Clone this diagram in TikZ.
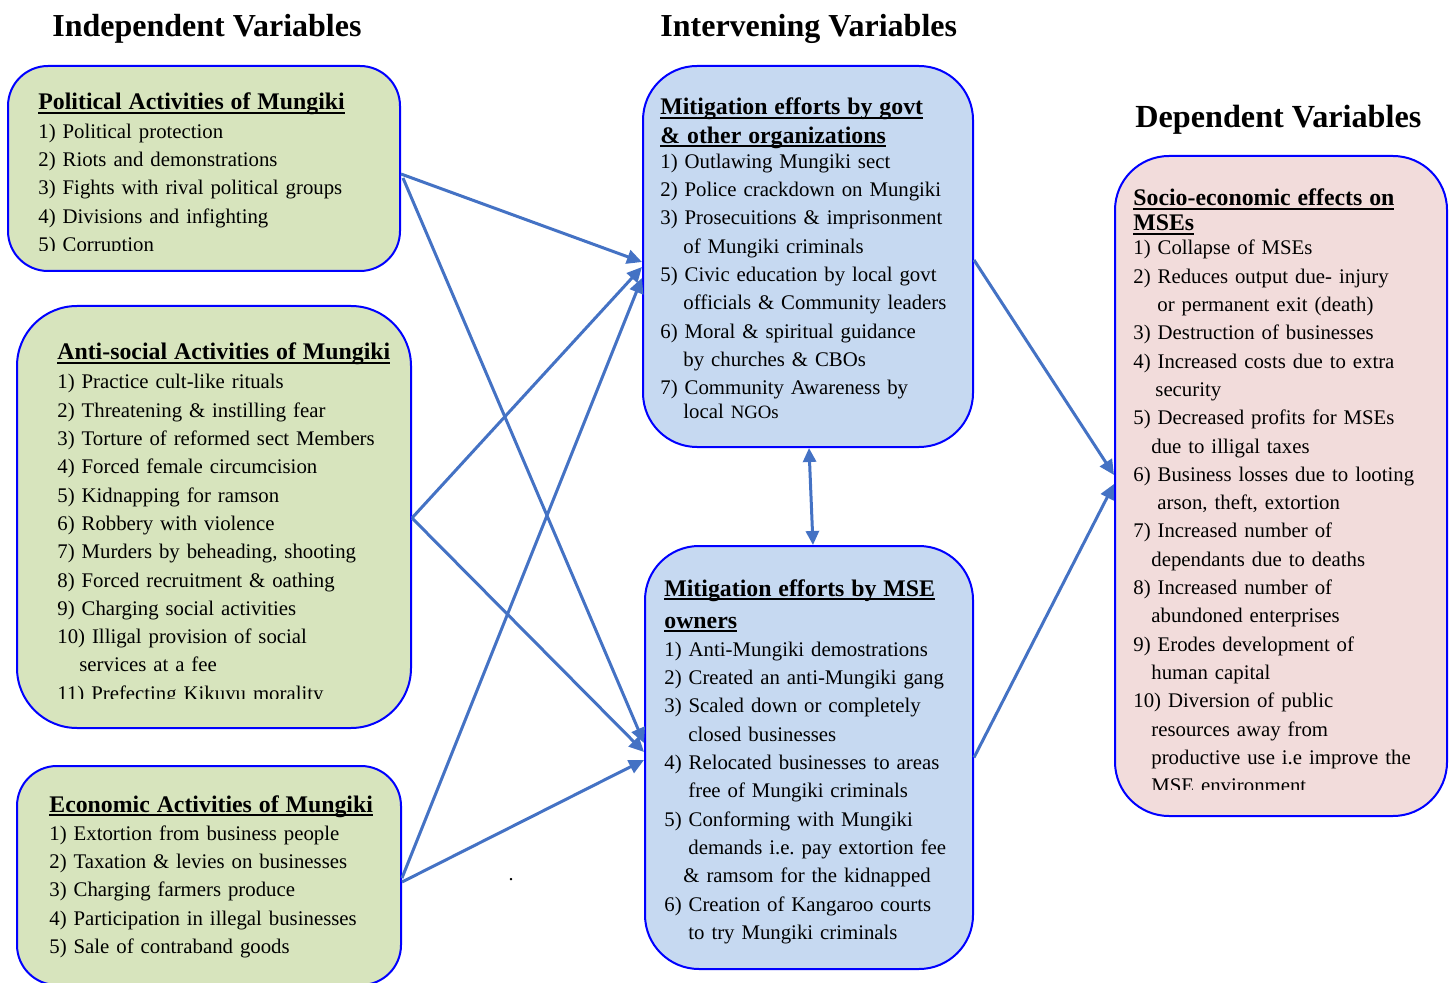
\documentclass[tikz,border=0pt]{standalone}
\usepackage{fontspec}
\setmainfont{Liberation Serif}
\usetikzlibrary{arrows.meta,fit}
\definecolor{bord}{HTML}{0000FF}
\definecolor{gfill}{HTML}{D7E4BD}
\definecolor{bfill}{HTML}{C6D9F1}
\definecolor{pfill}{HTML}{F2DCDB}
\definecolor{arrc}{HTML}{4472C4}
\frenchspacing
\newcommand\myhd[1]{\leavevmode{\fontsize{11.9}{14.15}\selectfont\setbox0\hbox{\bfseries #1}\rlap{\rule[-2pt]{\wd0}{0.9pt}}\box0}}
\begin{document}
\begin{tikzpicture}[x=0.5pt,y=-0.5pt,
  box/.style={draw=bord, line width=1pt, inner sep=0pt},
  gbox/.style={box, fill=gfill},
  bbox/.style={box, fill=bfill},
  pbox/.style={box, fill=pfill},
  txt/.style={anchor=base west, inner sep=0pt, text width=300pt, align=left, font=\fontsize{10.4}{14.15}\selectfont},
  title/.style={anchor=base west, inner sep=0pt, font=\bfseries\fontsize{16}{19}\selectfont},
  arr/.style={draw=arrc, line width=1.5pt, -{Triangle[length=7.5pt,width=7pt]}},
  dbl/.style={draw=arrc, line width=1.5pt, {Triangle[length=7pt,width=6.5pt]}-{Triangle[length=7pt,width=6.5pt]}}]
\useasboundingbox (0,0) rectangle (1454,983);

% titles
\node[title] (t1) at (52,37) {Independent Variables};
\node[title] (t2) at (660,37) {Intervening Variables};
\node[title, font=\bfseries\fontsize{16.1}{19}\selectfont] (t3) at (1135,128) {Dependent Variables};

% boxes
\node[gbox, rounded corners=20pt, fit={(8,66) (400,271)}] (pol) {};
\node[gbox, rounded corners=30pt, fit={(17,306) (411,728)}] (anti) {};
\node[gbox, rounded corners=20pt, fit={(17,766) (401,985)}] (eco) {};
\node[bbox, rounded corners=27pt, fit={(643,66) (973,447)}] (govt) {};
\node[bbox, rounded corners=27pt, fit={(645,546) (973,969)}] (mse) {};
\node[pbox, rounded corners=27pt, fit={(1115,156) (1447,816)}] (socio) {};

% texts
\begin{scope}
\clip (0,0) rectangle (1454,251);
\node[txt] (poltxt) at (38,110) {\myhd{Political Activities of Mungiki}\\
1) Political protection\\
2) Riots and demonstrations\\
3) Fights with rival political groups\\
4) Divisions and infighting\\
5) Corruption};
\end{scope}

\begin{scope}
\clip (0,0) rectangle (1454,698);
\node[txt] (antitxt) at (57,360) {\myhd{Anti-social Activities of Mungiki}\\[0.3pt]
1) Practice cult-like rituals\\
2) Threatening \& instilling fear\\
3) Torture of reformed sect Members\\
4) Forced female circumcision\\
5) Kidnapping for ramson\\
6) Robbery with violence\\
7) Murders by beheading, shooting\\
8) Forced recruitment \& oathing\\
9) Charging social activities\\
10) Illigal provision of social\\
\hspace*{11pt}services at a fee\\
11) Prefecting Kikuyu morality};
\end{scope}

\node[txt] (ecotxt) at (49,812) {\myhd{Economic Activities of Mungiki}\\
1) Extortion from business people\\
2) Taxation \& levies on businesses\\
3) Charging farmers produce\\
4) Participation in illegal businesses\\
5) Sale of contraband goods};

\node[txt] (govtxt) at (660,115) {\myhd{Mitigation efforts by govt}\\
\myhd{\& other organizations}\\[-1.65pt]
1) Outlawing Mungiki sect\\
2) Police crackdown on Mungiki\\
3) Prosecuitions \& imprisonment\\
\hspace*{11.5pt}of Mungiki criminals\\
5) Civic education by local govt\\
\hspace*{11.5pt}officials \& Community leaders\\
6) Moral \& spiritual guidance\\
\hspace*{11.5pt}by churches \& CBOs\\
7) Community Awareness by\\[-2.15pt]
\hspace*{11.5pt}local {\fontsize{9.4}{14}\selectfont NGOs}};

\node[txt] (msetxt) at (664,596) {\myhd{Mitigation efforts by MSE}\\[1.85pt]
\myhd{owners}\\
1) Anti-Mungiki demostrations\\
2) Created an anti-Mungiki gang\\
3) Scaled down or completely\\
\hspace*{12pt}closed businesses\\
4) Relocated businesses to areas\\
\hspace*{12pt}free of Mungiki criminals\\
5) Conforming with Mungiki\\
\hspace*{12pt}demands i.e. pay extortion fee\\
\hspace*{9.5pt}\& ramsom for the kidnapped\\
6) Creation of Kangaroo courts\\
\hspace*{12pt}to try Mungiki criminals};

\begin{scope}
\clip (0,0) rectangle (1454,789);
\node[txt] (sociotxt) at (1133,206) {\myhd{Socio-economic effects on}\\[-1.65pt]
\myhd{MSEs}\\[-2.15pt]
1) Collapse of MSEs\\
2) Reduces output due- injury\\
\hspace*{12pt}or permanent exit (death)\\
3) Destruction of businesses\\
4) Increased costs due to extra\\
\hspace*{11pt}security\\
5) Decreased profits for MSEs\\
\hspace*{9pt}due to illigal taxes\\
6) Business losses due to looting\\
\hspace*{12pt}arson, theft, extortion\\
7) Increased number of\\
\hspace*{9pt}dependants due to deaths\\
8) Increased number of\\
\hspace*{9pt}abundoned enterprises\\
9) Erodes development of\\
\hspace*{9pt}human capital\\
10) Diversion of public\\
\hspace*{9pt}resources away from\\
\hspace*{9pt}productive use i.e improve the\\
\hspace*{9pt}MSE environment};
\end{scope}

\node[inner sep=0pt, anchor=base, font=\fontsize{10}{12}\selectfont] (dot) at (511,880) {.};

% connectors
\draw[arr] ([yshift=-2.75pt]pol.east) -- ([yshift=-2.75pt]govt.west);
\draw[arr] ([xshift=1pt,yshift=-4.75pt]pol.east) -- ([yshift=7.25pt]mse.west);
\draw[arr] ([yshift=-0.5pt]anti.east) -- ([yshift=-5.25pt]govt.west);
\draw[arr] ([yshift=-0.5pt]anti.east) -- ([yshift=2.75pt]mse.west);
\draw[arr] ([yshift=-1.25pt]eco.east) -- ([yshift=-10.75pt]govt.west);
\draw[arr] ([yshift=-3.25pt]eco.east) -- ([yshift=-1.25pt]mse.west);
\draw[dbl] ([xshift=0.5pt]govt.south) -- ([xshift=2pt]mse.north);
\draw[arr] ([yshift=-1.75pt]govt.east) -- ([yshift=5.5pt]socio.west);
\draw[arr] (mse.east) -- ([yshift=1pt]socio.west);
\end{tikzpicture}
\end{document}
